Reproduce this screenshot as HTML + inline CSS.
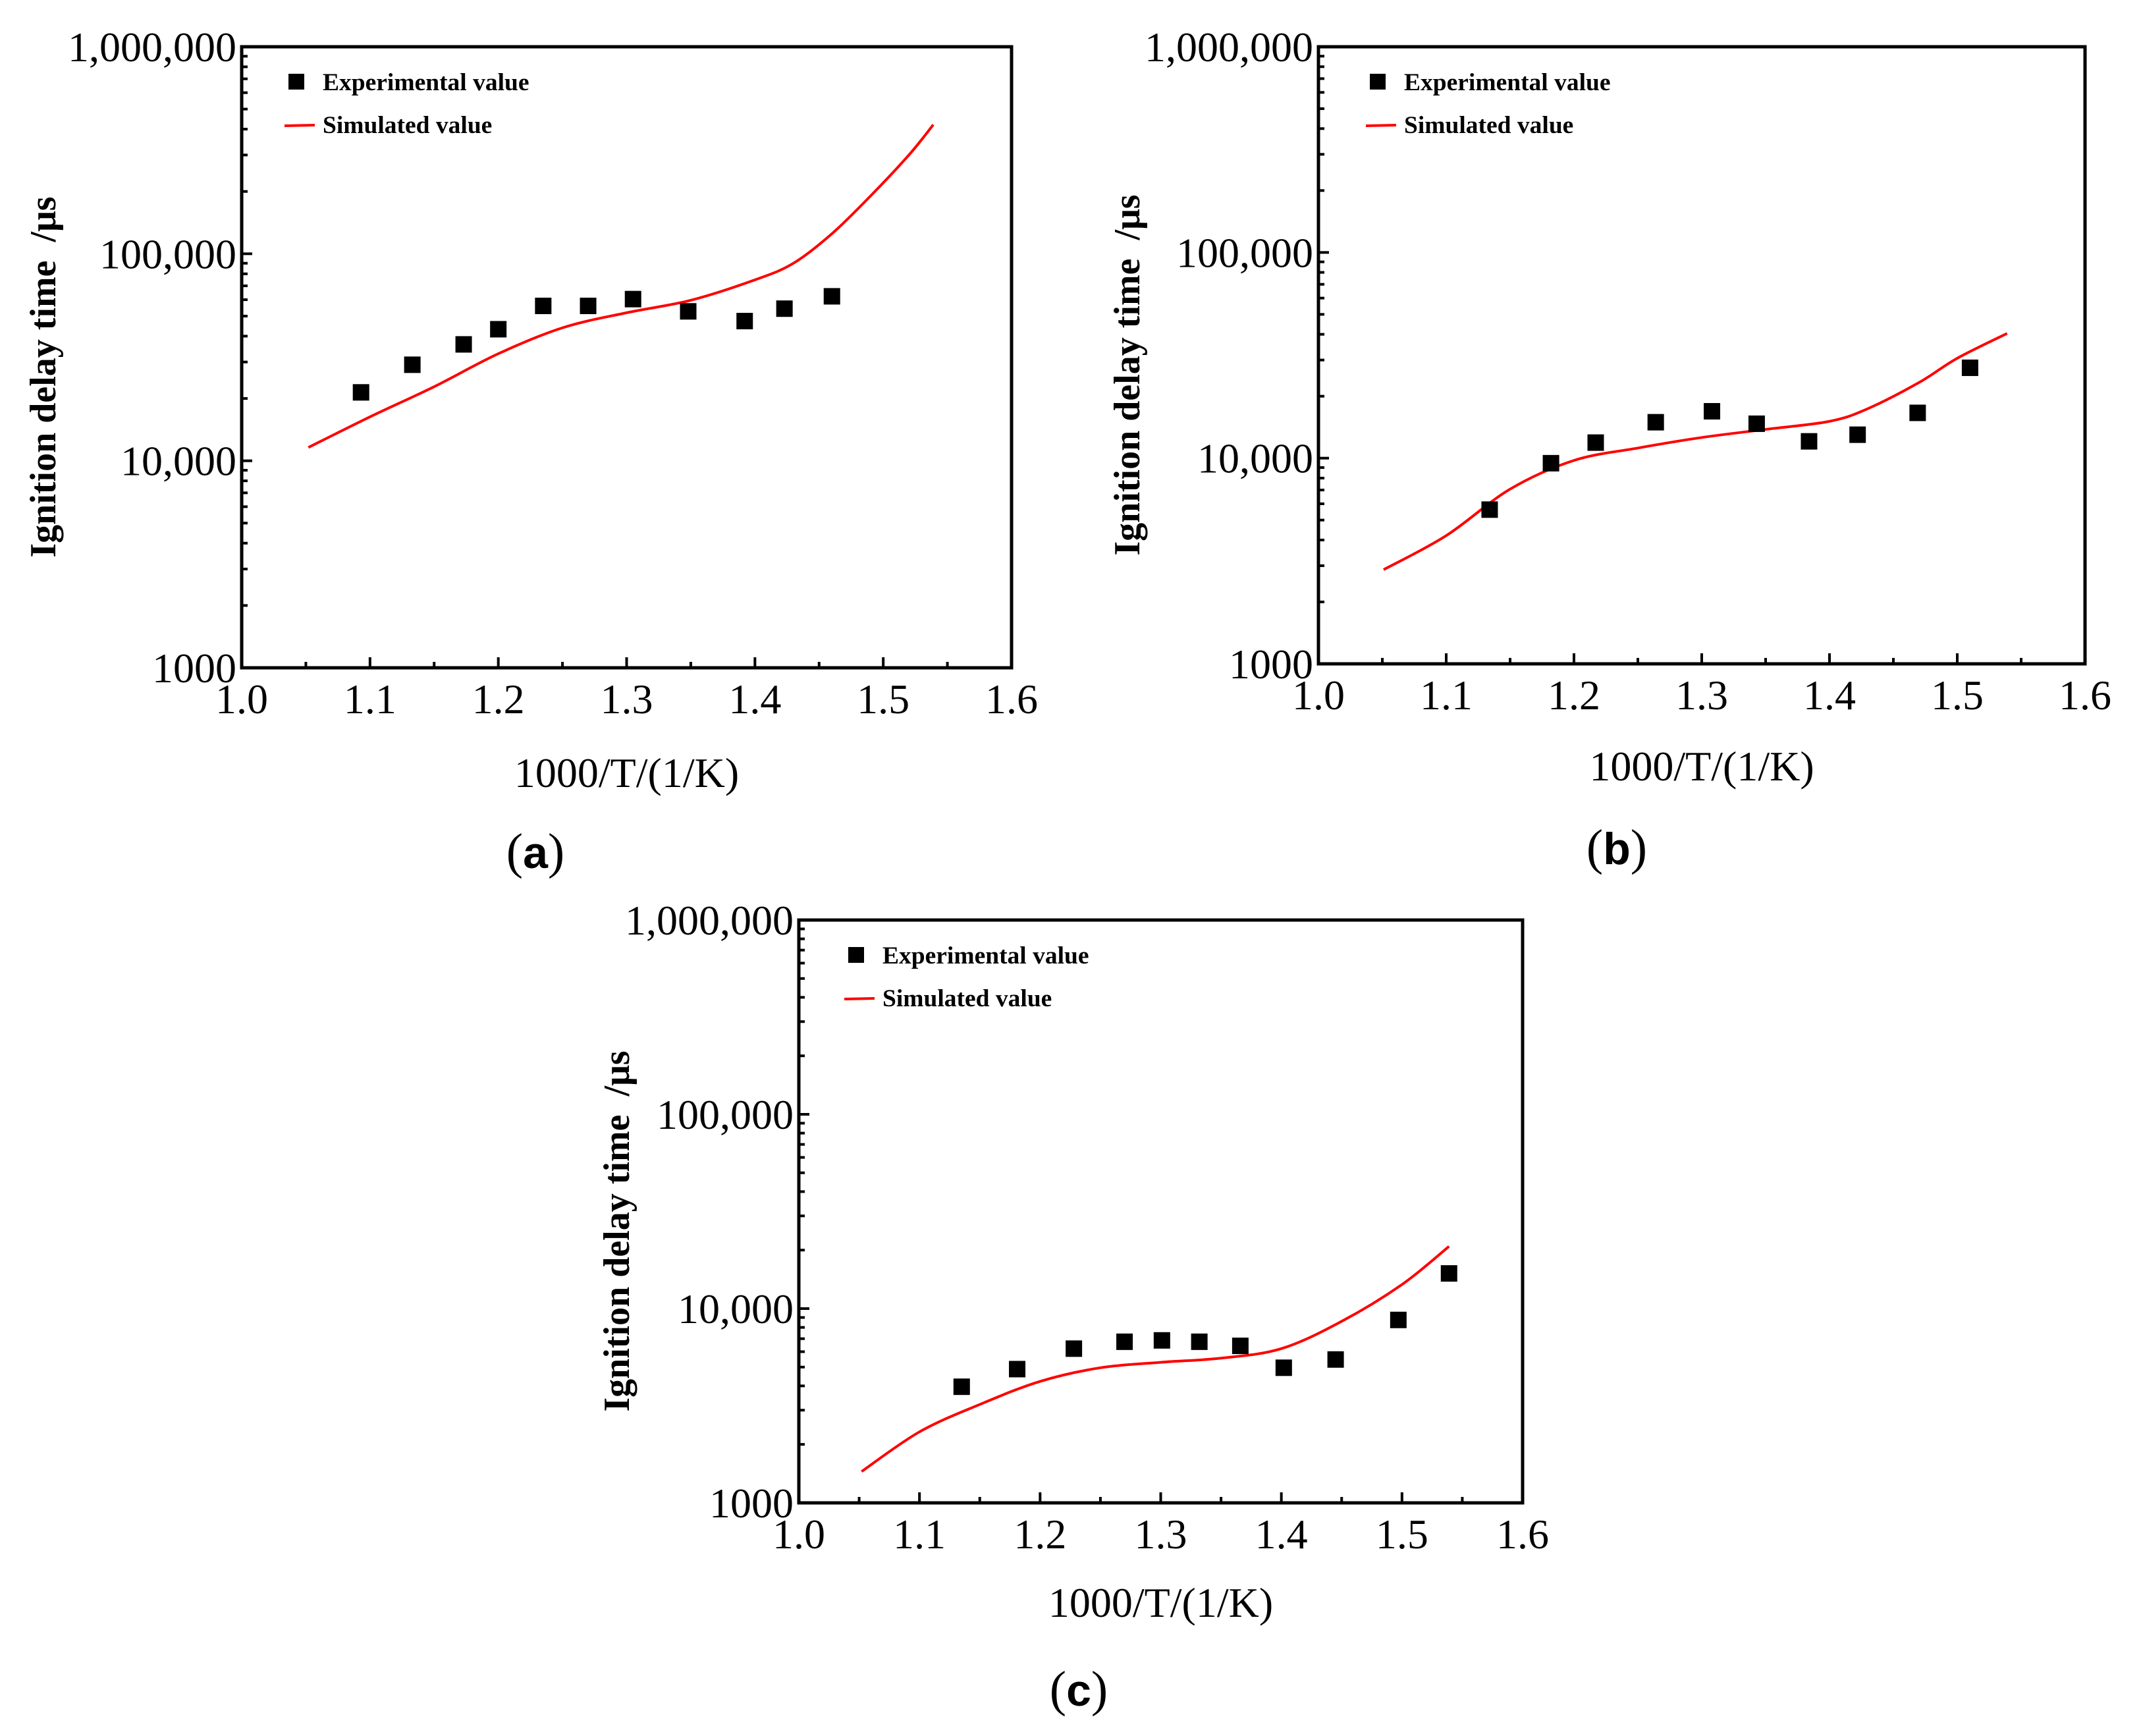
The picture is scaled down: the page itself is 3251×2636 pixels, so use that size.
<!DOCTYPE html>
<html><head><meta charset="utf-8"><style>
html,body{margin:0;padding:0;background:#fff;}
svg{display:block;font-family:"Liberation Serif",serif;}
</style></head><body>
<svg id="fig" width="3251" height="2636" viewBox="0 0 3251 2636" xmlns="http://www.w3.org/2000/svg"></svg>
<script>
// Panel (a)
const expXA=[1.093,1.133,1.173,1.200,1.235,1.270,1.305,1.348,1.392,1.423,1.460];
const expYA=[21400,29100,36500,43200,56000,56000,60400,52700,47300,54300,62300];
const simXA=[1.052,1.10,1.15,1.20,1.25,1.30,1.35,1.40,1.43,1.46,1.49,1.52,1.539];
const simYA=[11600,16300,22800,32900,43900,51900,59600,74800,90000,125000,190000,300000,420000];
// Panel (b)
const expXB=[1.134,1.182,1.217,1.264,1.308,1.343,1.384,1.422,1.469,1.510];
const expYB=[5620,9450,11900,14950,16900,14700,12070,13000,16600,27500];
const simXB=[1.051,1.10,1.15,1.20,1.25,1.30,1.35,1.40,1.43,1.47,1.50,1.539];
const simYB=[2870,4200,7070,9750,11200,12600,13800,15100,17400,23300,30600,40400];
// Panel (c)
const expXC=[1.135,1.181,1.228,1.270,1.301,1.332,1.366,1.402,1.445,1.497,1.539];
const expYC=[3960,4880,6220,6750,6860,6750,6430,4960,5470,8740,15170];
const simXC=[1.052,1.10,1.15,1.20,1.25,1.30,1.35,1.40,1.45,1.50,1.539];
const simYC=[1450,2320,3210,4220,4960,5290,5560,6220,8600,13300,20900];
// Axis ticks
const xTicks=[1.0,1.1,1.2,1.3,1.4,1.5,1.6];
const xTickLabels=["1.0","1.1","1.2","1.3","1.4","1.5","1.6"];
const yTicks=[1000,10000,100000,1000000];
const yTickLabels=["1000","10,000","100,000","1,000,000"];

const NS="http://www.w3.org/2000/svg";
const svg=document.getElementById('fig');
function mk(tag,attrs,parent,text){
  const e=document.createElementNS(NS,tag);
  for(const k in attrs)e.setAttribute(k,attrs[k]);
  if(text!==undefined)e.textContent=text;
  (parent||svg).appendChild(e);return e;
}
function catmull(pts){
  let d=`M${pts[0][0]},${pts[0][1]}`;
  for(let i=0;i<pts.length-1;i++){
    const p0=pts[i-1]||pts[i],p1=pts[i],p2=pts[i+1],p3=pts[i+2]||p2;
    const c1=[p1[0]+(p2[0]-p0[0])/6,p1[1]+(p2[1]-p0[1])/6];
    const c2=[p2[0]-(p3[0]-p1[0])/6,p2[1]-(p3[1]-p1[1])/6];
    d+=` C${c1[0]},${c1[1]} ${c2[0]},${c2[1]} ${p2[0]},${p2[1]}`;
  }
  return d;
}
function panel(id,L,R,T,B,ex,ey,sx,sy,lab,labX,labY,ylabX,xlabY,legDX){
  const g=mk('g',{});
  
  
  const xs=v=>L+(v-1.0)/0.6*(R-L);
  const ys=v=>B-(Math.log10(v)-3)/3*(B-T);
  for(let dec=3;dec<6;dec++){for(let m=2;m<10;m++){
    const y=ys(m*Math.pow(10,dec));
    const t=mk('line',{x1:L,x2:L+9,y1:y,y2:y,stroke:'#000','stroke-width':4},g);
    
    
  }}
  for(let i=0;i<6;i++){
    const x=xs(1.05+i*0.1);
    const t=mk('line',{x1:x,x2:x,y1:B,y2:B-9,stroke:'#000','stroke-width':4},g);
    
    
  }
  xTicks.forEach((v,i)=>{
    const x=xs(v);
    const t=mk('line',{x1:x,x2:x,y1:B,y2:B-16,stroke:'#000','stroke-width':4},g);
    
    
    const tl=mk('text',{x:x,y:B+69,'font-size':64,'text-anchor':'middle'},g,xTickLabels[i]);
    
    
  });
  yTicks.forEach((v,i)=>{
    const y=ys(v);
    const t=mk('line',{x1:L,x2:L+16,y1:y,y2:y,stroke:'#000','stroke-width':4},g);
    
    
    const tl=mk('text',{x:L-8,y:y+22,'font-size':64,'text-anchor':'end'},g,yTickLabels[i]);
    
    
  });
  const box=mk('rect',{x:L,y:T,width:R-L,height:B-T,fill:'none',stroke:'#000','stroke-width':5},g);
  
  
  const pts=sx.map((v,i)=>[xs(v),ys(sy[i])]);
  const path=mk('path',{d:catmull(pts),fill:'none',stroke:'#ff0000','stroke-width':4},g);
  
  
  ex.forEach((v,i)=>{
    const r=mk('rect',{x:xs(v)-12.5,y:ys(ey[i])-12.5,width:25,height:25,fill:'#000'},g);
    
    
  });
  const lg=mk('g',{},g);
  
  
  const lx=L+legDX;
  const ls=mk('rect',{x:lx-12,y:T+41,width:24,height:24,fill:'#000'},lg);
  
  
  const lt1=mk('text',{x:lx+40,y:T+66,'font-size':37.5,'font-weight':'bold'},lg,'Experimental value');
  
  
  const ll=mk('line',{x1:lx-18,x2:lx+28,y1:T+120,y2:T+119,stroke:'#ff0000','stroke-width':4},lg);
  
  
  const lt2=mk('text',{x:lx+40,y:T+131,'font-size':37.5,'font-weight':'bold'},lg,'Simulated value');
  
  
  const xt=mk('text',{x:(L+R)/2,y:xlabY,'font-size':64,'text-anchor':'middle'},g,'1000/T/(1/K)');
  
  
  const cy=(T+B)/2+30;
  const yt=mk('text',{x:ylabX,y:cy,'font-size':56,'font-weight':'bold','text-anchor':'middle','xml:space':'preserve',transform:`rotate(-90 ${ylabX} ${cy})`},g,'Ignition delay time \u00a0/\u03bcs');
  
  
  const pl=mk('text',{x:labX,y:labY,'font-size':76,'text-anchor':'middle'},g);
  
  
  mk('tspan',{},pl,'(');
  mk('tspan',{'font-weight':'bold','font-family':'"Liberation Sans",sans-serif','font-size':68},pl,lab);
  mk('tspan',{},pl,')');
}
panel('a',367,1536,71,1014,expXA,expYA,simXA,simYA,'a',813,1318,84,1195,83);
panel('b',2002,3166,71,1008,expXB,expYB,simXB,simYB,'b',2455,1312,1730,1185,90);
panel('c',1213,2312,1397,2282,expXC,expYC,simXC,simYC,'c',1638,2590,955,2455,87);
</script>
</body></html>
